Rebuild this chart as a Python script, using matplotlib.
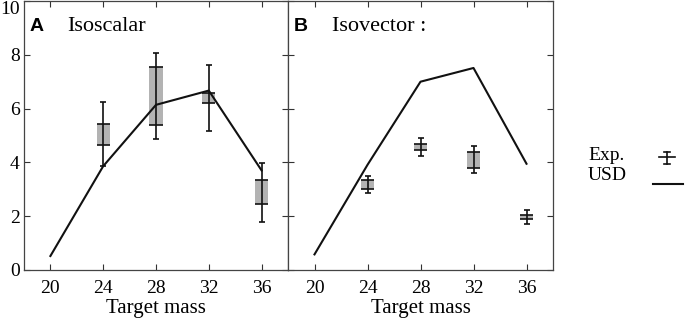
import matplotlib
matplotlib.use("Agg")
import matplotlib.pyplot as plt
import numpy as np
from matplotlib.lines import Line2D

mass = [20, 24, 28, 32, 36]
exp_mass = [24, 28, 32, 36]

usd_iso = [0.52, 3.86, 6.14, 6.67, 3.70]
exp_iso = [5.04, 6.46, 6.39, 2.89]
stat_iso = [1.19, 1.60, 1.24, 1.10]
sys_iso = [0.39, 1.07, 0.19, 0.45]

usd_vec = [0.58, 3.91, 7.00, 7.51, 3.95]
exp_vec = [3.17, 4.57, 4.10, 1.96]
stat_vec = [0.31, 0.34, 0.50, 0.26]
sys_vec = [0.17, 0.11, 0.30, 0.07]

panel_letters = ["A", "B"]
panel_titles = ["Isoscalar", "Isovector :"]
legend_labels = ["Exp.", "USD"]
xticks = [20, 24, 28, 32, 36]
yticks = [0, 2, 4, 6, 8, 10]

serif = ["Liberation Serif", "DejaVu Serif"]
plt.rcParams["font.family"] = serif

fig = plt.figure(figsize=(6.85, 3.19), dpi=100)
W, H = 685, 319
axA = fig.add_axes([24 / W, 1 - 270 / H, (288 - 24) / W, 269 / H])
axB = fig.add_axes([288 / W, 1 - 270 / H, (553 - 288) / W, 269 / H], sharey=axA)

box_color = "#b3b3b3"
ink = "#111111"

def draw(ax, usd, ex, st, sy, letter, title, show_ylabels):
    c = np.array(ex)
    s = np.array(sy)
    xm = np.array(exp_mass)
    ax.bar(exp_mass, 2 * s, bottom=c - s, width=1.0, color=box_color,
           edgecolor="none", zorder=1)
    ax.hlines(c - s, xm - 0.5, xm + 0.5, color=ink, lw=1.2, zorder=2)
    ax.hlines(c + s, xm - 0.5, xm + 0.5, color=ink, lw=1.2, zorder=2)
    ax.errorbar(exp_mass, ex, yerr=st, fmt="none", ecolor=ink, elinewidth=1.2,
                capsize=2.3, capthick=1.2, zorder=3)
    ax.plot(mass, usd, color=ink, lw=1.5, zorder=4)
    ax.set_xlim(18, 38)
    ax.set_ylim(0, 10)
    ax.set_xticks(xticks)
    ax.set_yticks(yticks)
    ax.tick_params(direction="in", length=4, width=0.8, top=True, right=True,
                   labelsize=14, colors="#333333", labelcolor="black")
    ax.tick_params(axis="x", pad=7)
    ax.tick_params(axis="y", pad=3)
    if not show_ylabels:
        ax.tick_params(labelleft=False)
    for sp in ax.spines.values():
        sp.set_color("#444444")
        sp.set_linewidth(0.9)
    ax.set_xlabel("Target mass", fontsize=15, labelpad=2)
    ax.text(0.02, 0.905, letter, transform=ax.transAxes, fontsize=14,
            fontweight="bold", family=["Liberation Sans", "DejaVu Sans"],
            va="center", ha="left")
    ax.text(0.165, 0.905, title, transform=ax.transAxes, fontsize=16,
            va="center", ha="left")

draw(axA, usd_iso, exp_iso, stat_iso, sys_iso, panel_letters[0], panel_titles[0], True)
draw(axB, usd_vec, exp_vec, stat_vec, sys_vec, panel_letters[1], panel_titles[1], False)

fig.canvas.draw()
top_lab = axA.get_yticklabels()[-1]
top_lab.set_va("top")

# legend (text left of keys), in figure pixel coordinates
def fx(px):
    return px / W

def fy(py):
    return 1 - py / H

fig.text(fx(588), fy(155), legend_labels[0], fontsize=14, va="center", ha="left")
fig.text(fx(588), fy(176), legend_labels[1], fontsize=14, va="center", ha="left")
kx = 667
fig.add_artist(Line2D([fx(kx), fx(kx)], [fy(152), fy(164)], color=ink, lw=1.2,
                      transform=fig.transFigure))
for yy in (152, 164):
    fig.add_artist(Line2D([fx(kx - 3), fx(kx + 3)], [fy(yy), fy(yy)], color=ink,
                          lw=1.2, transform=fig.transFigure))
fig.add_artist(Line2D([fx(659), fx(675)], [fy(157), fy(157)], color=ink, lw=1.2,
                      transform=fig.transFigure))
fig.add_artist(Line2D([fx(653), fx(683)], [fy(184), fy(184)], color=ink, lw=1.5,
                      transform=fig.transFigure))

fig.savefig("out.png", dpi=100)
